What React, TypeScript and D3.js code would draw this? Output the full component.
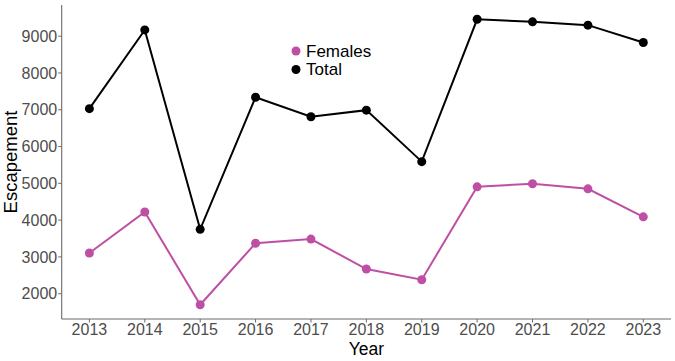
import React from 'react';
import * as d3 from 'd3';

const years = [2013, 2014, 2015, 2016, 2017, 2018, 2019, 2020, 2021, 2022, 2023];
const totalValues = [7030, 9170, 3750, 7340, 6810, 6990, 5590, 9460, 9390, 9300, 8830];
const femaleValues = [3105, 4220, 1700, 3370, 3485, 2670, 2380, 4905, 4990, 4850, 4090];
const yTicks = [2000, 3000, 4000, 5000, 6000, 7000, 8000, 9000];

const series = [
  { name: 'Females', color: '#bf4fa5', values: femaleValues },
  { name: 'Total', color: '#000000', values: totalValues }
];

const width = 675;
const height = 361;
const margin = { top: 5, right: 4, bottom: 42, left: 61.7 };
const font = '"Liberation Sans", Arial, sans-serif';

const App = () => {
  const x = d3
    .scaleLinear()
    .domain([2012.5, 2023.5])
    .range([margin.left, width - margin.right]);
  const y = d3
    .scaleLinear()
    .domain([1312, 9848])
    .range([height - margin.bottom, margin.top]);

  const line = d3
    .line<number>()
    .x((d, i) => x(years[i]))
    .y(d => y(d));

  const bottom = height - margin.bottom;

  return (
    <svg
      width={width}
      height={height}
      style={{ position: 'absolute', left: 0, top: 0, background: '#fff' }}
      fontFamily={font}
    >
      {/* axes */}
      <line x1={margin.left} x2={margin.left} y1={margin.top} y2={bottom} stroke="#6b6b6b" strokeWidth={1.1} />
      <line x1={margin.left} x2={width - margin.right} y1={bottom} y2={bottom} stroke="#6b6b6b" strokeWidth={1.1} />
      {yTicks.map(t => (
        <g key={t}>
          <line x1={margin.left - 3.5} x2={margin.left} y1={y(t)} y2={y(t)} stroke="#6b6b6b" />
          <text x={margin.left - 4.5} y={y(t)} dy="0.35em" textAnchor="end" fontSize={16} fill="#4d4d4d">
            {t}
          </text>
        </g>
      ))}
      {years.map(yr => (
        <g key={yr}>
          <line x1={x(yr)} x2={x(yr)} y1={bottom} y2={bottom + 3.5} stroke="#6b6b6b" />
          <text x={x(yr)} y={334.5} textAnchor="middle" fontSize={16} fill="#4d4d4d">
            {yr}
          </text>
        </g>
      ))}
      <text x={(margin.left + width - margin.right) / 2} y={355} textAnchor="middle" fontSize={17.5} fill="#000">
        Year
      </text>
      <text
        transform={`translate(17, ${(margin.top + bottom) / 2}) rotate(-90)`}
        textAnchor="middle"
        fontSize={18.5}
        fill="#000"
      >
        Escapement
      </text>

      {/* series */}
      {series.map(s => (
        <g key={s.name}>
          <path d={line(s.values) || ''} fill="none" stroke={s.color} strokeWidth={2} />
          {s.values.map((v, i) => (
            <circle key={i} cx={x(years[i])} cy={y(v)} r={4.5} fill={s.color} />
          ))}
        </g>
      ))}

      {/* legend */}
      {series.map((s, i) => (
        <g key={s.name} transform={`translate(296, ${51 + i * 18.5})`}>
          <circle r={4.5} fill={s.color} />
          <text x={10} dy="0.35em" fontSize={17} fill="#000">
            {s.name}
          </text>
        </g>
      ))}
    </svg>
  );
};

export default App;
